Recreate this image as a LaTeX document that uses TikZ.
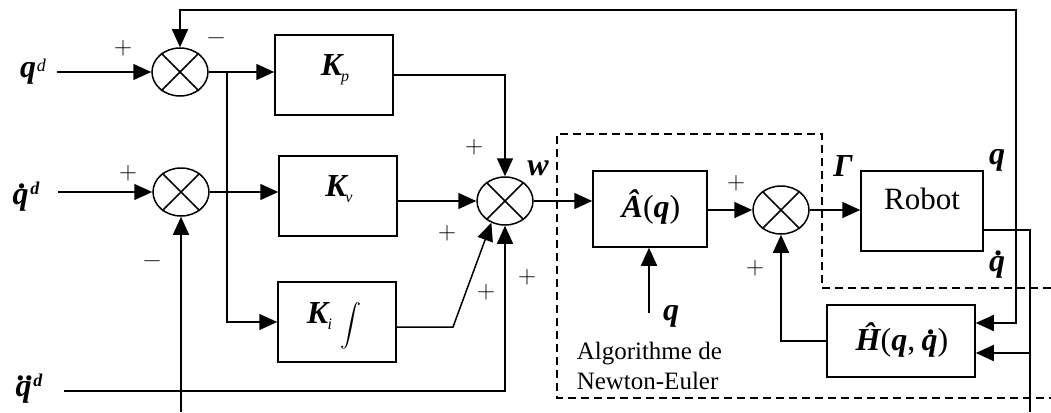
\documentclass[tikz,border=0pt]{standalone}
\usepackage{fontspec}
\setmainfont{Liberation Serif}
\newfontfamily\lmr{Latin Modern Roman}
\usetikzlibrary{shapes.geometric,arrows.meta}
\newcommand\bi[1]{{\bfseries\itshape #1}}
\newcommand\qdt{\mbox{\ooalign{q\cr\hidewidth\kern.14em\raisebox{.5em}{.}\hidewidth\cr}}}
\newcommand\qddt{\mbox{\ooalign{q\cr\hidewidth\kern.14em\raisebox{.5em}{.\kern.02em.}\hidewidth\cr}}}
\newcommand\sbs[1]{\raisebox{-6pt}{\mdseries\fontsize{16}{16}\selectfont #1}}
\begin{document}
\begin{tikzpicture}[x=1pt,y=-1pt,line width=1.5pt,
  >={Triangle[length=18pt,width=16pt]},
  blk/.style={draw,rectangle,inner sep=0pt},
  sumj/.style={draw,ellipse,minimum width=56pt,minimum height=48pt,inner sep=0pt},
  lab/.style={inner sep=0pt,font=\fontsize{32}{34}\selectfont\bfseries\itshape},
  sgn/.style={inner sep=0pt,font=\lmr\fontsize{25}{25}\selectfont},
  txt/.style={inner sep=0pt,font=\fontsize{25}{30}\selectfont,align=left},
  nwbox/.style={dash pattern=on 8pt off 5pt,line width=1.4pt}]
\useasboundingbox (0,0) rectangle (1051,412);

% blocks
\node[blk,minimum width=118pt,minimum height=80pt] (Kp) at (334,75) {};
\node[blk,minimum width=118pt,minimum height=80pt] (Kv) at (338,196) {};
\node[blk,minimum width=118pt,minimum height=80pt] (Ki) at (337,322) {};
\node[blk,minimum width=114pt,minimum height=76pt] (A) at (650,209) {};
\node[blk,minimum width=122pt,minimum height=80pt] (Robot) at (922,211) {};
\node[blk,minimum width=148pt,minimum height=72pt] (H) at (901,341) {};

% summing junctions
\node[sumj] (s1) at (180,72) {};
\node[sumj] (s2) at (181,192) {};
\node[sumj] (s3) at (505,201) {};
\node[sumj] (s4) at (781,210) {};
\foreach \s in {s1,s2,s3,s4}
  \draw (\s.45) -- (\s.225) (\s.135) -- (\s.315);

% block labels
\node[lab] (Kpl) at (335,70) {K\kern-.04em\sbs{p}};
\node[lab] (Kvl) at (339,189) {K\kern-.04em\sbs{v}};
\node[lab] (Kil) at (334,326) {K\kern-.02em\sbs{i}\kern.25em\raisebox{-8pt}{\scalebox{2.1}{\normalsize$\displaystyle\int$}}};
\node[lab] (Al) at (651,207) {Â{\mdseries\upshape(}q{\mdseries\upshape)}};
\node[font=\fontsize{31}{32}\selectfont,inner sep=0pt] (Rl) at (922,199) {Robot};
\node[lab] (Hl) at (902,340) {Ĥ{\mdseries\upshape(}q{\mdseries\upshape,}\kern.2em\qdt{\mdseries\upshape)}};

% signal labels
\node[lab] (lqd) at (33,72) {q\kern.02em\raisebox{6pt}{\mdseries\fontsize{18}{18}\selectfont d}};
\node[lab] (lqdd) at (26,193) {\qdt\kern.05em\raisebox{10pt}{\fontsize{18}{18}\selectfont d}};
\node[lab] (lqddd) at (29,385) {\qddt\kern.05em\raisebox{10pt}{\fontsize{18}{18}\selectfont d}};
\node[lab] (lw) at (538,168) {w};
\node[lab] (lG) at (843,166) {Γ};
\node[lab] (lq) at (997,160) {q};
\node[lab] (lqdot) at (997,264) {\qdt};
\node[lab] (lqA) at (671,316) {q};
\node[txt,anchor=north west] (NE) at (576,341) {Algorithme de\\Newton-Euler};

% signs
\node[sgn] (p1) at (123,48) {+};
\node[sgn] (m1) at (216,41) {−};
\node[sgn] (p2) at (128,173) {+};
\node[sgn] (m2) at (152,264) {−};
\node[sgn] (p3) at (474,147) {+};
\node[sgn] (p4) at (447,233) {+};
\node[sgn] (p5) at (486,292) {+};
\node[sgn] (p6) at (527,277) {+};
\node[sgn] (p7) at (736,183) {+};
\node[sgn] (p8) at (755,268) {+};

% coordinates
\coordinate (qdin) at (57,72);
\coordinate (qdotin) at (58,192);
\coordinate (qddin) at (64,391);
\coordinate (tr) at (1016,10);
\coordinate (hq) at (1016,323);
\coordinate (br) at (227,72);
\coordinate (fbqd) at (181,412);
\coordinate (kik) at (453,327);
\coordinate (qA) at (649,313);
\coordinate (ro) at (1030,230);
\coordinate (rb) at (1030,412);
\coordinate (hqd) at (1030,353);

% connectors
\draw[->] (qdin) -- (s1.west);
\draw[<->] (s1.north) |- (tr) -- (hq) -- (hq -| H.east);
\draw[->] (s1.east) -- (s1.east -| Kp.west);
\draw[->] (br) |- (Ki.west);
\draw[->] (qdotin) -- (s2.west);
\draw[->] (s2.east) -- (s2.east -| Kv.west);
\draw[->] (fbqd) -- (s2.south);
\draw[->] (Kp.east) -| (s3.north);
\draw[->] (Kv.east |- s3) -- (s3.west);
\draw[->] (Ki.east |- kik) -- (kik) -- (s3.238);
\draw[->] (qddin) -| (s3.south);
\draw[->] (s3.east) -- (s3.east -| A.west);
\draw[->] (A.east |- s4) -- (s4.west);
\draw[->] (s4.east) -- (s4.east -| Robot.west);
\draw[->] (qA) -- (qA |- A.south);
\draw[->] (H.west) -| (s4.south);
\draw (Robot.east |- ro) -- (ro) -- (rb);
\draw[->] (hqd) -- (hqd -| H.east);

% dashed Newton-Euler region
\draw[nwbox] (1051,288) -- (822,288) -- (822,134) -- (557,134) -- (557,398) -- (1051,398);
\end{tikzpicture}
\end{document}
